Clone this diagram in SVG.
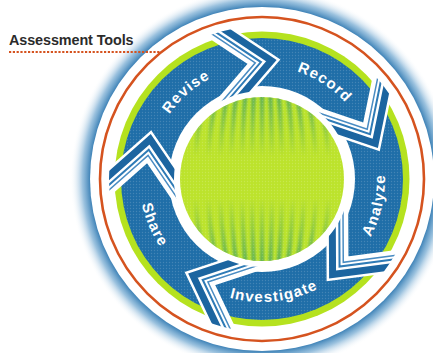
<svg xmlns="http://www.w3.org/2000/svg" width="433" height="353" viewBox="0 0 433 353">
  <defs>
    <style>
      .lbl { font-family: "Liberation Sans", Arial, sans-serif; font-weight: bold; font-size: 15px; fill: #ffffff; letter-spacing: 1.2px; }
      .title { font-family: "Liberation Sans", Arial, sans-serif; font-weight: bold; font-size: 14.4px; fill: #2b2b2b; letter-spacing: -0.1px; }
      .cover { fill: none; stroke: #ffffff; stroke-width: 22; }
      .thick { fill: none; stroke: #1c65a0; stroke-width: 7; }
      .thin1 { fill: none; stroke: #2f7bb6; stroke-width: 2; }
      .thin2 { fill: none; stroke: #4a8cc2; stroke-width: 1.5; }
    </style>
    <radialGradient id="glow" gradientUnits="userSpaceOnUse" cx="262" cy="179" r="192">
      <stop offset="0.885" stop-color="#2470ab" stop-opacity="1"/>
      <stop offset="0.935" stop-color="#4a90c4" stop-opacity="0.55"/>
      <stop offset="1" stop-color="#ffffff" stop-opacity="0"/>
    </radialGradient>
    <pattern id="dots" width="3" height="3" patternUnits="userSpaceOnUse">
      <circle cx="1.5" cy="1.5" r="0.7" fill="#ffffff" fill-opacity="0.16"/>
    </pattern>
    <linearGradient id="fade" gradientUnits="userSpaceOnUse" x1="0" y1="97" x2="0" y2="261">
      <stop offset="0" stop-color="#ffffff"/>
      <stop offset="0.36" stop-color="#000000"/>
      <stop offset="0.62" stop-color="#000000"/>
      <stop offset="1" stop-color="#ffffff"/>
    </linearGradient>
    <mask id="streakMask" maskUnits="userSpaceOnUse" x="170" y="90" width="184" height="180">
      <rect x="170" y="90" width="184" height="180" fill="url(#fade)"/>
    </mask>
    <clipPath id="diskClip">
      <circle cx="262" cy="179" r="82"/>
    </clipPath>
    <clipPath id="ringClip">
      <path clip-rule="evenodd" d="M262,26 A153,153 0 1 1 261.99,26 Z M262,91 A88,88 0 1 0 262.01,91 Z"/>
    </clipPath>
    <filter id="soft" x="-10%" y="-10%" width="120%" height="120%">
      <feGaussianBlur stdDeviation="1.1"/>
    </filter>
    <g id="chev">
      <polyline class="cover" points="146.2,-71.4 116.7,-12.4 52.7,-55.1"/>
      <polyline class="thick" points="150.67,-69.17 118.64,-5.11 49.94,-50.91"/>
      <polyline class="thin1" points="144.40,-72.30 115.94,-15.33 53.82,-56.74"/>
      <polyline class="thin2" points="141.05,-73.98 114.48,-20.81 55.90,-59.86"/>
    </g>
  </defs>

  <rect width="433" height="353" fill="#ffffff"/>

  <!-- background disk -->
  <g id="disk">
    <circle cx="262" cy="179" r="192" fill="url(#glow)"/>
    <circle cx="262" cy="179" r="172" fill="#ffffff"/>
    <circle cx="262" cy="179" r="162" fill="none" stroke="#d5531f" stroke-width="2.6"/>
    <circle cx="262" cy="179" r="147.5" fill="#b5e21f"/>
    <circle cx="262" cy="179" r="141" fill="#1f6ea8"/>
    <circle cx="262" cy="179" r="141" fill="url(#dots)"/>
    <circle cx="262" cy="179" r="93" fill="#ffffff"/>
  </g>

  <!-- center sphere -->
  <g id="center">
    <circle cx="262" cy="179" r="82" fill="#bce32c"/>
    <g clip-path="url(#diskClip)">
      <g mask="url(#streakMask)">
        <g filter="url(#soft)" fill="none" stroke="#5fb155" stroke-width="4.4" stroke-opacity="0.95">
          <line x1="262" y1="90" x2="262" y2="270"/>
          <ellipse cx="262" cy="179" rx="10" ry="150"/>
          <ellipse cx="262" cy="179" rx="20" ry="150"/>
          <ellipse cx="262" cy="179" rx="31" ry="150"/>
          <ellipse cx="262" cy="179" rx="42" ry="150"/>
          <ellipse cx="262" cy="179" rx="54" ry="150"/>
          <ellipse cx="262" cy="179" rx="67" ry="150"/>
          <ellipse cx="262" cy="179" rx="81" ry="150"/>
          <ellipse cx="262" cy="179" rx="96" ry="150"/>
          <ellipse cx="262" cy="179" rx="112" ry="150"/>
        </g>
      </g>
      <circle cx="262" cy="179" r="82" fill="url(#dots)"/>
    </g>
  </g>

  <!-- chevron connectors -->
  <g id="connectors" clip-path="url(#ringClip)">
    <use href="#chev" transform="translate(262 179) rotate(277)"/>
    <use href="#chev" transform="translate(262 179) rotate(345)"/>
    <use href="#chev" transform="translate(262 179) rotate(56)"/>
    <use href="#chev" transform="translate(262 179) rotate(128)"/>
    <use href="#chev" transform="translate(262 179) rotate(202)"/>
  </g>

  <!-- stage labels -->
  <g id="stage-revise">
    <path id="pRevise" d="M150.4,161.3 A113,113 0 0 1 260.0,66.0" fill="none"/>
    <text class="lbl"><textPath href="#pRevise" startOffset="50%" text-anchor="middle">Revise</textPath></text>
  </g>
  <g id="stage-record">
    <path id="pRecord" d="M248.2,66.8 A113,113 0 0 1 370.1,146.0" fill="none"/>
    <text class="lbl"><textPath href="#pRecord" startOffset="50%" text-anchor="middle">Record</textPath></text>
  </g>
  <g id="stage-analyze">
    <path id="pAnalyze" d="M336.0,277.2 A123,123 0 0 0 371.6,123.2" fill="none"/>
    <text class="lbl"><textPath href="#pAnalyze" startOffset="50%" text-anchor="middle">Analyze</textPath></text>
  </g>
  <g id="stage-investigate">
    <path id="pInvestigate" d="M176.6,267.5 A123,123 0 0 0 364.0,247.8" fill="none"/>
    <text class="lbl"><textPath href="#pInvestigate" startOffset="50%" text-anchor="middle">Investigate</textPath></text>
  </g>
  <g id="stage-share">
    <path id="pShare" d="M144.4,143.3 A122,122 0 0 0 206.6,287.7" fill="none"/>
    <text class="lbl"><textPath href="#pShare" startOffset="50%" text-anchor="middle">Share</textPath></text>
  </g>

  <!-- heading -->
  <g id="heading">
    <text class="title" x="9" y="45">Assessment Tools</text>
    <line x1="9" y1="52" x2="160" y2="52" stroke="#d5531f" stroke-width="1.8" stroke-dasharray="2.2 1.6"/>
  </g>
</svg>
